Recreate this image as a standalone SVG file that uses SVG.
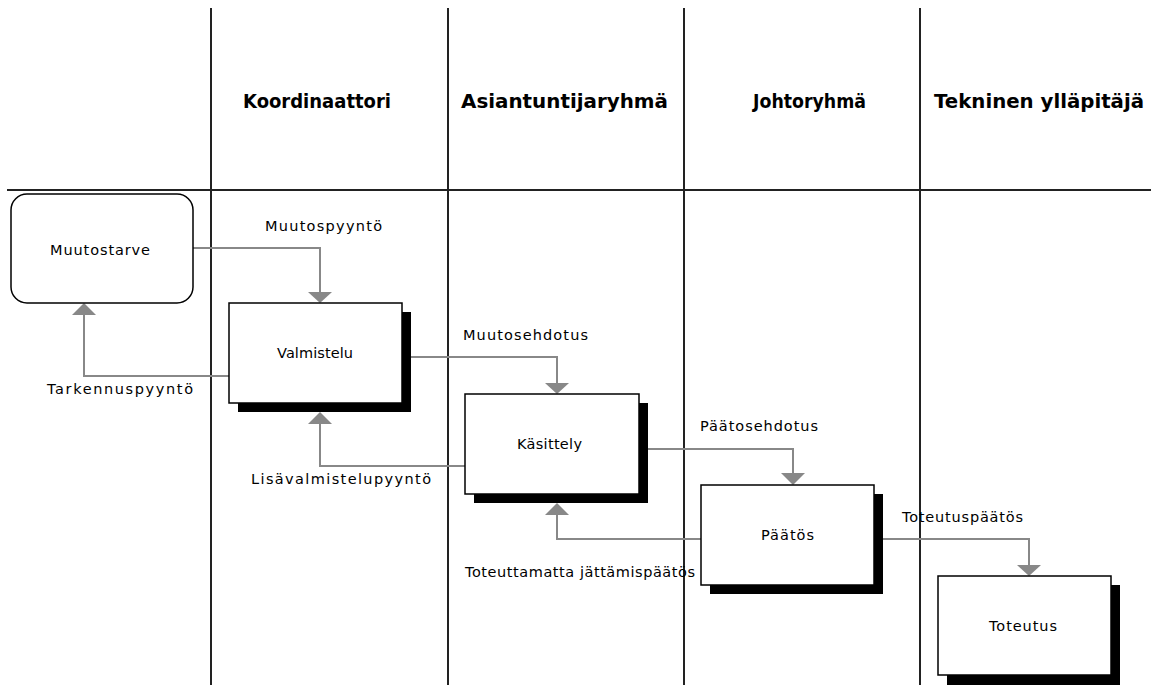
<svg xmlns="http://www.w3.org/2000/svg" width="1151" height="685" viewBox="0 0 1151 685">
<style>
.lane{stroke:#222;stroke-width:2;fill:none}
.hdr{font-family:"DejaVu Sans",sans-serif;font-weight:bold;font-size:19px;fill:#000}
.lbl{font-family:"DejaVu Sans",sans-serif;font-size:14.5px;fill:#000}
.box{fill:#fff;stroke:#000;stroke-width:1.5}
.sh{fill:#000}
.con{fill:none;stroke:#888;stroke-width:2}
.ah{fill:#888}
</style>
<rect width="1151" height="685" fill="#fff"/>
<g id="lanes">
<line class="lane" x1="211" y1="8" x2="211" y2="685"/>
<line class="lane" x1="448" y1="8" x2="448" y2="685"/>
<line class="lane" x1="684" y1="8" x2="684" y2="685"/>
<line class="lane" x1="920" y1="8" x2="920" y2="685"/>
<line class="lane" x1="7" y1="190" x2="1151" y2="190" stroke-width="2.5"/>
</g>
<g id="headers">
<text class="hdr" x="243" y="108" textLength="148" lengthAdjust="spacingAndGlyphs">Koordinaattori</text>
<text class="hdr" x="461" y="108" textLength="207" lengthAdjust="spacingAndGlyphs">Asiantuntijaryhmä</text>
<text class="hdr" x="753" y="108" textLength="113" lengthAdjust="spacingAndGlyphs">Johtoryhmä</text>
<text class="hdr" x="934" y="108" textLength="210" lengthAdjust="spacingAndGlyphs">Tekninen ylläpitäjä</text>
</g>
<g id="connectors">
<path class="con" d="M193,248 H320 V293"/>
<polygon class="ah" points="308,292 332,292 320,303"/>
<text class="lbl" x="265" y="231" textLength="117">Muutospyyntö</text>
<path class="con" d="M229,376 H84 V314"/>
<polygon class="ah" points="72,315 96,315 84,303"/>
<text class="lbl" x="47" y="394" textLength="146">Tarkennuspyyntö</text>
<path class="con" d="M411,357 H557 V384"/>
<polygon class="ah" points="545,383 569,383 557,394"/>
<text class="lbl" x="463" y="340" textLength="125">Muutosehdotus</text>
<path class="con" d="M465,466 H320 V423"/>
<polygon class="ah" points="308,424 332,424 320,412"/>
<text class="lbl" x="251" y="484" textLength="180">Lisävalmistelupyyntö</text>
<path class="con" d="M648,449 H793 V474"/>
<polygon class="ah" points="781,473 805,473 793,485"/>
<text class="lbl" x="700" y="431" textLength="118">Päätosehdotus</text>
<path class="con" d="M701,539 H557 V514"/>
<polygon class="ah" points="545,515 569,515 557,503"/>
<text class="lbl" x="465" y="577" textLength="230">Toteuttamatta jättämispäätös</text>
<path class="con" d="M883,539 H1029 V566"/>
<polygon class="ah" points="1017,565 1041,565 1029,576"/>
<text class="lbl" x="902" y="522" textLength="121">Toteutuspäätös</text>
</g>
<g id="muutostarve">
<rect class="box" x="11" y="194" width="182" height="109" rx="16"/>
<text class="lbl" x="50" y="255" textLength="100">Muutostarve</text>
</g>
<g id="valmistelu">
<rect class="sh" x="238" y="312" width="173" height="100"/>
<rect class="box" x="229" y="303" width="173" height="100"/>
<text class="lbl" x="277" y="358" textLength="76">Valmistelu</text>
</g>
<g id="kasittely">
<rect class="sh" x="474" y="403" width="174" height="100"/>
<rect class="box" x="465" y="394" width="174" height="100"/>
<text class="lbl" x="517" y="449" textLength="65">Käsittely</text>
</g>
<g id="paatos">
<rect class="sh" x="710" y="494" width="173" height="100"/>
<rect class="box" x="701" y="485" width="173" height="100"/>
<text class="lbl" x="761" y="540" textLength="53">Päätös</text>
</g>
<g id="toteutus">
<rect class="sh" x="947" y="585" width="173" height="100"/>
<rect class="box" x="938" y="576" width="173" height="99"/>
<text class="lbl" x="989" y="631" textLength="68">Toteutus</text>
</g>
</svg>
